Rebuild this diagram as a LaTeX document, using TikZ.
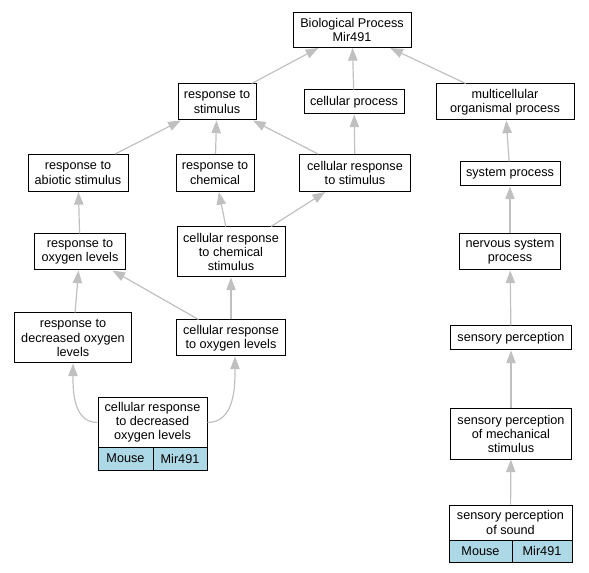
\documentclass[tikz,border=0pt]{standalone}
\usepackage{fontspec}
\setmainfont{Liberation Sans}
\usetikzlibrary{arrows.meta}
\definecolor{edgegray}{RGB}{192,192,192}
\definecolor{taxonblue}{RGB}{173,216,230}

\begin{document}
\begin{tikzpicture}[x=0.75pt, y=-0.75pt,
    every node/.style={font=\fontsize{9.5}{10.6}\selectfont},
    term/.style={draw, fill=white, line width=0.75pt, align=center, inner sep=0pt},
    cell/.style={term, fill=taxonblue},
    isa/.style={draw=edgegray, line width=0.9pt, -{Triangle[length=9.5pt, width=7pt]}}]
    \useasboundingbox (0,0) rectangle (589,573);
    % GO terms
    \foreach \n/\x/\y/\w/\h/\t in {
        root/352/30/118/35/{Biological Process\\Mir491},
        rts/217/102/78/36/{response to\\stimulus},
        cp/354/102/100/24/{cellular process},
        mop/505/102/138/36/{multicellular\\organismal process},
        ras/78/173/100/37/{response to\\abiotic stimulus},
        rch/215/173/78/37/{response to\\chemical},
        crs/355/173/111/37/{cellular response\\to stimulus},
        sysp/510/174/100/24/{system process},
        rol/80/252/91/36/{response to\\oxygen levels},
        crcs/231/252/108/50/{cellular response\\to chemical\\stimulus},
        nsp/510/252/101/36/{nervous system\\process},
        rdol/73/338/117/50/{response to\\decreased oxygen\\levels},
        crol/231/338/109/36/{cellular response\\to oxygen levels},
        senp/511/338/121/24/{sensory perception},
        spm/511/434/121/50/{sensory perception\\of mechanical\\stimulus},
        crdol/152.5/422.5/109/49/{cellular response\\to decreased\\oxygen levels},
        sps/510.5/522.5/123/35/{sensory perception\\of sound}} {
        \node[term, minimum width=\w*0.75pt, minimum height=\h*0.75pt] (\n) at (\x, \y) {\t};
    }
    % annotation rows
    \foreach \n/\x/\y/\w/\h/\t in {
        crdolm/125.5/458.5/55/23/Mouse, crdolg/180/458.5/54/23/Mir491,
        spsm/480.5/551/63/22/Mouse, spsg/542/551/60/22/Mir491} {
        \node[cell, minimum width=\w*0.75pt, minimum height=\h*0.75pt] (\n) at (\x, \y) {\t};
    }
    % is_a edges
    \foreach \c/\p in {rts/root, cp/root, mop/root, ras/rts, rch/rts, crs/rts,
        crs/cp, sysp/mop, rol/ras, crcs/rch, crcs/crs, nsp/sysp, rdol/rol,
        crol/rol, crol/crcs, senp/nsp, spm/senp, sps/spm} {
        \draw[isa] (\c) -- (\p);
    }
    \draw[isa] (crdol.west) to[out=180, in=-90] (rdol.south);
    \draw[isa] (crdol.east) to[out=0, in=-90] ([xshift=3pt]crol.south);
\end{tikzpicture}
\end{document}
